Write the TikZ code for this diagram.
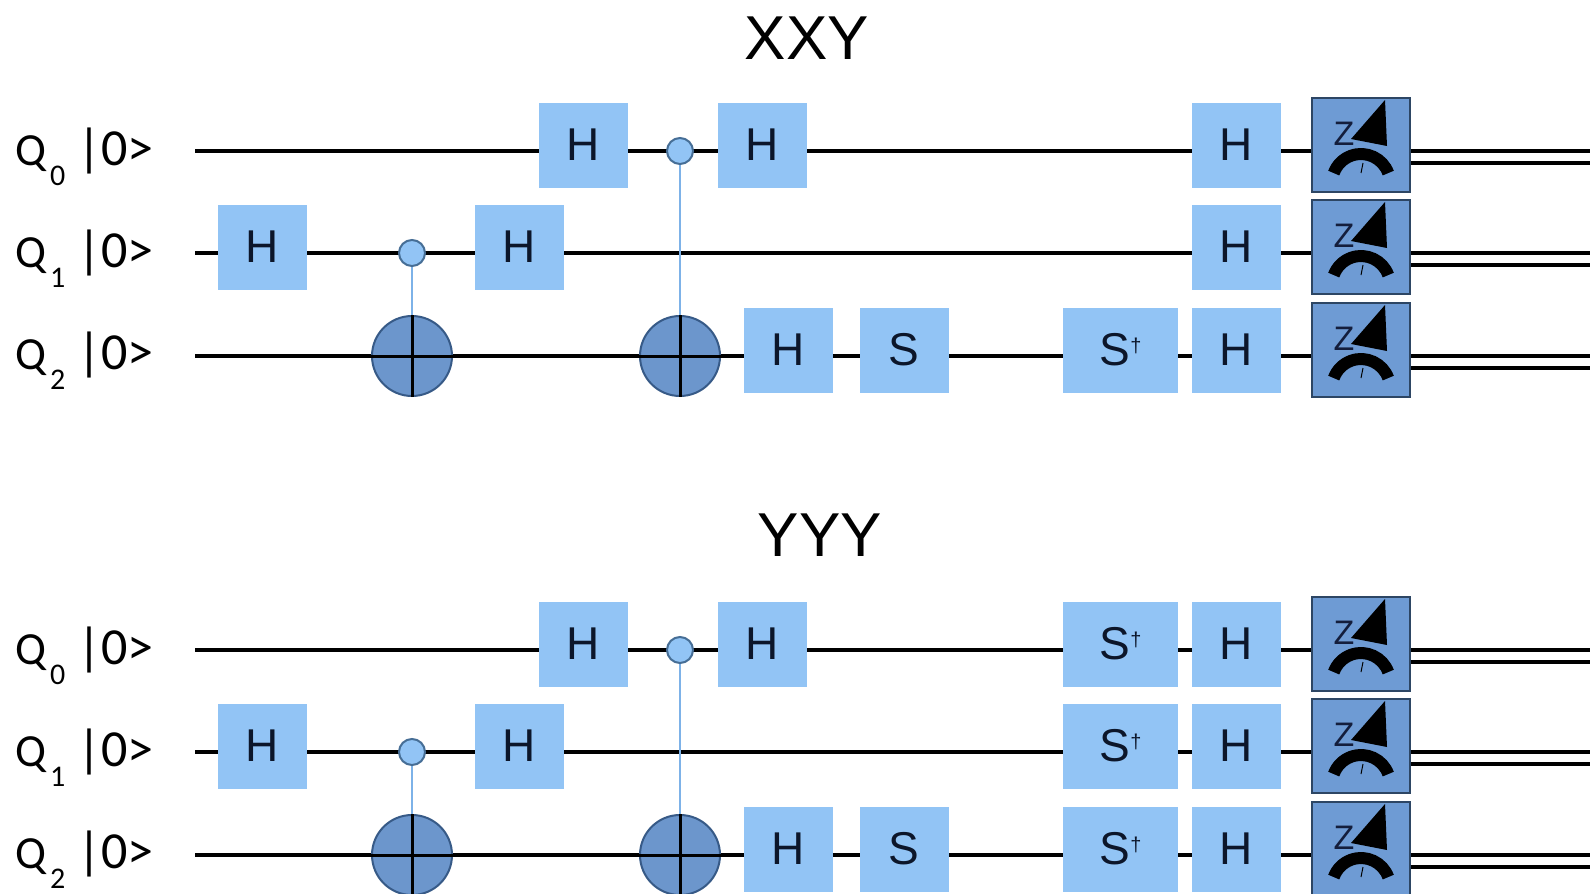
\documentclass[tikz,border=0pt]{standalone}
\usepackage{fontspec}
\setmainfont{Liberation Sans}
\newfontfamily\labelfont{Carlito}
\usetikzlibrary{backgrounds}
\definecolor{gateblue}{RGB}{146,196,245}
\definecolor{gatetext}{RGB}{12,22,42}
\definecolor{ctrlborder}{RGB}{70,110,150}
\definecolor{ctrlline}{RGB}{125,178,232}
\definecolor{targfill}{RGB}{108,150,204}
\definecolor{targborder}{RGB}{55,90,135}
\definecolor{measfill}{RGB}{110,155,212}
\definecolor{measborder}{RGB}{45,70,100}
\definecolor{ztext}{RGB}{20,30,60}
\newcommand\qlab[1]{Q\hspace{4pt}\raisebox{-20pt}{\fontsize{30}{30}\selectfont #1}\hspace{12pt}{\fontsize{52}{52}\selectfont|0>}}
\newcommand\sdgtxt{S\raisebox{13pt}{\fontsize{20}{20}\selectfont †}}
\tikzset{
  gate/.style={fill=gateblue, minimum width=89pt, minimum height=85pt, inner sep=0pt,
    font=\fontsize{46}{46}\selectfont, text=gatetext},
  sdg/.style={gate, minimum width=115pt},
  meas/.style={draw=measborder, line width=1.5pt, fill=measfill, minimum width=98pt,
    minimum height=94pt, inner sep=0pt},
  ctrl/.style={circle, draw=ctrlborder, line width=2pt, fill=gateblue, minimum size=26pt, inner sep=0pt},
  targ/.style={circle, draw=targborder, line width=2pt, fill=targfill, minimum size=80pt, inner sep=0pt},
  plusline/.style={line width=3pt, black},
  wire/.style={line width=3.2pt, black},
  cline/.style={line width=2pt, ctrlline},
  lbl/.style={anchor=base west, inner sep=0pt, font=\labelfont\fontsize{46}{46}\selectfont},
  ttl/.style={inner sep=0pt, font=\fontsize{62}{62}\selectfont},
  meter/.pic={
    \node[inner sep=0pt, font=\fontsize{34}{34}\selectfont, text=ztext] at (-17,-11) {Z};
    \fill[black] (24,-45) -- (-10,-6) -- (26,1) -- cycle;
    \draw[line width=12pt, black] (0,38) ++(20:29pt) arc[start angle=20, end angle=160, radius=29pt];
    \draw[line width=1pt, black] (0,28) -- (2,18);
  }
}
\begin{document}
\begin{tikzpicture}[x=1pt,y=-1pt]
\useasboundingbox (0,0) rectangle (1590,894);
\begin{pgfonlayer}{background}
  \fill[white] (0,0) rectangle (1590,894);
\end{pgfonlayer}
\node[ttl] (tA) at (807,38.5) {XXY};
\node[ttl] (tB) at (820,535.5) {YYY};
\foreach \p/\dy in {a/0,b/499}{
  \node[lbl] (\p-L0) at (15,165+\dy) {\qlab{0}};
  \node[lbl] (\p-L1) at (15,267+\dy) {\qlab{1}};
  \node[lbl] (\p-L2) at (15,369+\dy) {\qlab{2}};
  \coordinate (\p-s0) at (195,151+\dy);
  \coordinate (\p-s1) at (195,253+\dy);
  \coordinate (\p-s2) at (195,356+\dy);
  \coordinate (\p-e0) at (1590,151+\dy);
  \coordinate (\p-e1) at (1590,253+\dy);
  \coordinate (\p-e2) at (1590,356+\dy);
  \node[gate] (\p-H1a) at (262.5,247+\dy) {H};
  \node[ctrl] (\p-C1) at (412,253+\dy) {};
  \node[targ] (\p-T1) at (412,356+\dy) {};
  \node[gate] (\p-H1b) at (519.5,247+\dy) {H};
  \node[gate] (\p-H0a) at (583.5,145+\dy) {H};
  \node[ctrl] (\p-C2) at (680,151+\dy) {};
  \node[targ] (\p-T2) at (680,356+\dy) {};
  \node[gate] (\p-H0b) at (762.5,145+\dy) {H};
  \node[gate] (\p-H2a) at (788,350+\dy) {H};
  \node[gate] (\p-S2) at (904,350+\dy) {S};
  \node[sdg] (\p-D2) at (1120.5,350+\dy) {\sdgtxt};
  \node[gate] (\p-H0c) at (1236.5,145+\dy) {H};
  \node[gate] (\p-H1c) at (1236.5,247+\dy) {H};
  \node[gate] (\p-H2c) at (1236.5,350+\dy) {H};
  \node[meas] (\p-M0) at (1361,145+\dy) {};
  \node[meas] (\p-M1) at (1361,247+\dy) {};
  \node[meas] (\p-M2) at (1361,350+\dy) {};
  \pic at (\p-M0.center) {meter};
  \pic at (\p-M1.center) {meter};
  \pic at (\p-M2.center) {meter};
  \draw[plusline] (\p-T1.north) -- (\p-T1.south) (\p-T1.west) -- (\p-T1.east);
  \draw[plusline] (\p-T2.north) -- (\p-T2.south) (\p-T2.west) -- (\p-T2.east);
  \begin{pgfonlayer}{background}
    \foreach \q in {0,1,2}{
      \draw[wire] (\p-s\q) -- (\p-s\q -| \p-M\q.west);
      \draw[wire] (\p-M\q.east |- \p-s\q) -- (\p-e\q);
      \draw[wire] ([yshift=-12pt]\p-M\q.east |- \p-s\q) -- ([yshift=-12pt]\p-e\q);
    }
    \draw[cline] (\p-C1) -- (\p-T1);
    \draw[cline] (\p-C2) -- (\p-T2);
  \end{pgfonlayer}
}
\node[sdg] (b-D0) at (1120.5,644) {\sdgtxt};
\node[sdg] (b-D1) at (1120.5,746) {\sdgtxt};
\end{tikzpicture}
\end{document}
